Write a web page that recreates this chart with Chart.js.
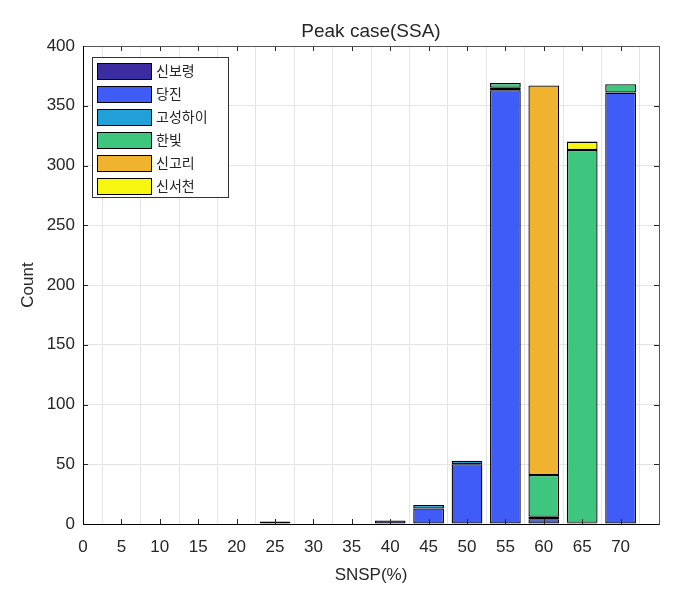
<!DOCTYPE html>
<html>
<head>
<meta charset="utf-8">
<script src="https://cdn.jsdelivr.net/npm/chart.js@4"></script>
<style>
    html, body { margin: 0; padding: 0; background: #fff; }
    #wrap { width: 687px; height: 591px; }
</style>
</head>
<body>
<div id="wrap"><canvas id="chart" width="687" height="591"></canvas></div>
<script>
// --- data ---
const snsp = [0, 5, 10, 15, 20, 25, 30, 35, 40, 45, 50, 55, 60, 65, 70];
const plantNames = ['신보령', '당진', '고성하이', '한빛', '신고리', '신서천'];
const sinboryeong = [0, 0, 0, 0, 0, 2, 0, 0, 3, 0, 0, 0, 0, 0, 0];
const dangjin     = [0, 0, 0, 0, 0, 0, 0, 0, 0, 13, 50, 363, 4, 0, 361];
const goseongHai  = [0, 0, 0, 0, 0, 0, 0, 0, 0, 3, 3, 2, 2, 1, 0];
const hanbit      = [0, 0, 0, 0, 0, 0, 0, 0, 0, 0, 0, 4, 35, 312, 7];
const singori     = [0, 0, 0, 0, 0, 0, 0, 0, 0, 0, 0, 0, 326, 0, 0];
const sinseocheon = [0, 0, 0, 0, 0, 0, 0, 0, 0, 0, 0, 0, 0, 7, 0];
const yTicks = [0, 50, 100, 150, 200, 250, 300, 350, 400];
const chartTitle = 'Peak case(SSA)';

const plantColors = ['#3b2ca1', '#405cf6', '#22a0d8', '#3ec67f', '#efb32f', '#f6f60e'];
const allSeries = [sinboryeong, dangjin, goseongHai, hanbit, singori, sinseocheon];

const FONT = "'Liberation Sans', Arial, sans-serif";
const KFONT = "'Noto Sans CJK KR', sans-serif";

// box + inward ticks + title centred on the plot, MATLAB style
const boxPlugin = {
    id: 'box',
    afterDatasetsDraw(chart) {
        const { ctx, chartArea: a, scales } = chart;
        ctx.save();
        ctx.strokeStyle = '#262626';
        ctx.lineWidth = 1;
        ctx.beginPath();
        scales.x.ticks.forEach(t => {
            const px = Math.round(scales.x.getPixelForValue(t.value)) + 0.5;
            ctx.moveTo(px, a.bottom); ctx.lineTo(px, a.bottom - 5);
            ctx.moveTo(px, a.top); ctx.lineTo(px, a.top + 5);
        });
        yTicks.forEach(v => {
            const py = Math.round(scales.y.getPixelForValue(v)) + 0.5;
            ctx.moveTo(a.left, py); ctx.lineTo(a.left + 5, py);
            ctx.moveTo(a.right, py); ctx.lineTo(a.right - 5, py);
        });
        ctx.stroke();
        ctx.strokeStyle = '#555';
        ctx.strokeRect(Math.round(a.left) + 0.5, Math.round(a.top) + 0.5,
            Math.round(a.right - a.left), Math.round(a.bottom - a.top));
        ctx.strokeStyle = '#000';
        ctx.beginPath();
        ctx.moveTo(a.left + 0.5, a.top); ctx.lineTo(a.left + 0.5, a.bottom + 0.5);
        ctx.lineTo(a.right, a.bottom + 0.5);
        ctx.stroke();

        ctx.fillStyle = '#262626';
        ctx.font = '19px ' + FONT;
        ctx.textAlign = 'center';
        ctx.textBaseline = 'middle';
        ctx.fillText(chartTitle, (a.left + a.right) / 2, 32);
        ctx.restore();
    }
};

// legend box inside the plot, top-left
const legendPlugin = {
    id: 'innerLegend',
    afterDraw(chart) {
        const { ctx, chartArea: a } = chart;
        const x0 = a.left + 9, y0 = a.top + 11;
        const w = 136, rowH = 23;
        const h = rowH * chart.data.datasets.length + 2;
        ctx.save();
        ctx.fillStyle = '#fff';
        ctx.fillRect(x0, y0, w, h);
        ctx.strokeStyle = '#333';
        ctx.lineWidth = 1;
        ctx.strokeRect(x0 + 0.5, y0 + 0.5, w, h);
        ctx.font = '14px ' + KFONT;
        ctx.textBaseline = 'middle';
        chart.data.datasets.forEach((ds, i) => {
            const cy = y0 + 14 + i * rowH;
            ctx.fillStyle = ds.backgroundColor;
            ctx.fillRect(x0 + 5, cy - 8, 54, 16);
            ctx.strokeStyle = '#000';
            ctx.strokeRect(x0 + 5.5, cy - 7.5, 54, 16);
            ctx.fillStyle = '#262626';
            ctx.fillText(ds.label, x0 + 64, cy);
        });
        ctx.restore();
    }
};

new Chart(document.getElementById('chart').getContext('2d'), {
    type: 'bar',
    data: {
        datasets: plantNames.map((name, k) => ({
            label: name,
            data: snsp.map((x, i) => ({ x: x, y: allSeries[k][i] })),
            backgroundColor: plantColors[k],
            borderColor: '#000',
            borderWidth: 1.3,
            borderSkipped: false,
            barPercentage: 0.8,
            categoryPercentage: 1.0
        }))
    },
    options: {
        responsive: false,
        animation: false,
        layout: { padding: { left: 16, right: 28, top: 46, bottom: 3 } },
        plugins: {
            legend: { display: false },
            tooltip: { enabled: false },
            title: { display: false }
        },
        scales: {
            x: {
                type: 'linear',
                stacked: true,
                min: 0,
                max: 75,
                offset: false,
                grid: { color: '#e4e4e4', drawTicks: false },
                border: { display: false },
                ticks: {
                    stepSize: 5,
                    padding: 13,
                    color: '#262626',
                    font: { family: FONT, size: 17 },
                    callback: v => (v === 75 ? '' : v)
                },
                title: {
                    display: true,
                    text: 'SNSP(%)',
                    color: '#262626',
                    font: { family: FONT, size: 17 },
                    padding: { top: 2, bottom: 2 }
                },
                afterFit: s => { s.height = 64; }
            },
            y: {
                stacked: true,
                min: 0,
                max: 400,
                grid: { color: '#e4e4e4', drawTicks: false },
                border: { display: false },
                ticks: {
                    stepSize: 50,
                    padding: 8,
                    color: '#262626',
                    font: { family: FONT, size: 17 }
                },
                title: {
                    display: true,
                    text: 'Count',
                    color: '#262626',
                    font: { family: FONT, size: 17 },
                    padding: { top: 2, bottom: 2 }
                },
                afterFit: s => { s.width = 67; }
            }
        }
    },
    plugins: [boxPlugin, legendPlugin]
});
</script>
</body>
</html>
